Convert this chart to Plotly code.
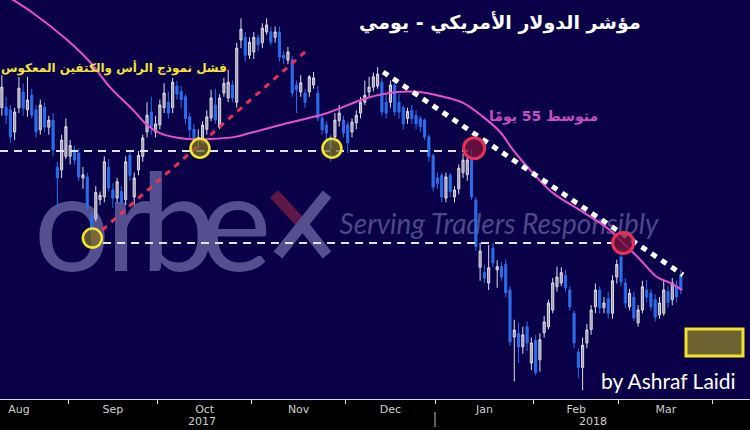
import plotly.graph_objects as go

# ---------------- data (US Dollar Index, daily, Aug 2017 - Mar 2018) ----------------
open_ = [93.50,93.51,93.46,93.05,93.50,93.79,93.46,93.73,93.46,93.09,93.51,93.14,93.27,92.40,92.35,92.60,
         92.60,92.72,92.66,92.20,92.22,91.50,91.45,91.80,91.85,92.40,91.98,91.83,91.95,91.80,92.62,91.85,92.35,92.60,93.05,93.42,93.05,
         93.18,93.50,93.60,93.50,93.90,93.80,93.70,93.33,93.10,92.90,92.94,93.10,93.31,93.55,93.14,93.77,93.68,93.92,93.60,94.75,94.80,94.47,
         94.53,94.79,94.70,94.90,94.90,94.80,94.90,94.47,94.38,94.38,93.92,93.79,93.77,93.79,93.92,93.77,93.31,93.18,92.95,92.96,93.26,93.27,
         93.18,93.05,93.22,93.40,93.60,93.79,93.88,93.90,93.97,93.60,93.60,93.92,93.60,93.50,93.30,93.45,93.36,93.30,93.27,92.96,92.62,
         92.20,92.25,91.83,92.25,91.85,92.00,92.30,92.26,92.53,91.79,90.55,90.45,90.26,90.90,90.50,90.56,90.60,90.13,89.26,89.33,89.08,89.45,88.78,
         89.20,88.84,89.34,89.45,89.76,90.19,90.26,90.40,90.13,89.70,88.98,88.70,89.15,89.40,89.82,90.13,89.80,89.97,89.70,90.37,
         90.74,90.26,89.82,90.00,89.52,89.76,90.13,90.07,89.95,89.67,89.70,90.10,89.95,90.20,90.41]
high_ = [94.10,93.70,93.55,93.50,94.07,93.95,94.07,93.85,93.55,93.65,93.60,93.35,93.40,92.50,93.00,93.30,
         92.90,92.80,92.75,92.40,92.30,91.55,92.05,91.95,92.60,92.55,92.10,92.20,92.05,92.60,92.70,92.30,92.70,93.00,93.60,93.70,93.35,
         93.65,93.95,93.80,94.05,94.00,93.90,93.75,93.40,93.20,93.10,93.25,93.45,93.83,93.85,93.75,94.05,94.20,94.00,94.70,95.15,94.90,94.80,
         94.90,94.85,95.06,95.15,95.00,95.00,95.00,94.55,94.62,94.45,94.00,94.10,93.85,94.10,94.16,93.90,93.35,93.25,93.00,93.40,93.55,93.35,
         93.25,93.30,93.45,93.70,94.00,94.07,94.15,94.25,94.05,93.75,94.00,94.00,93.75,93.55,93.50,93.55,93.45,93.35,93.30,93.00,92.65,
         92.30,92.30,92.30,92.30,92.05,92.45,92.65,92.62,92.75,91.85,91.00,90.60,90.96,91.00,90.68,90.65,90.70,90.20,89.58,89.53,89.45,89.55,89.25,
         89.30,89.33,89.65,89.95,90.35,90.56,90.55,90.50,90.20,89.75,89.05,89.25,89.50,89.85,90.25,90.20,90.00,90.10,90.40,90.69,
         90.90,90.35,90.15,90.10,89.85,90.30,90.32,90.15,90.05,90.00,90.30,90.20,90.35,90.30,90.50]
low_ = [93.35,93.20,92.85,92.90,93.40,93.35,93.33,93.30,92.95,93.00,93.05,93.00,92.60,91.65,92.20,92.55,
        92.45,92.45,92.15,92.00,91.60,91.02,91.40,91.70,91.75,91.95,91.65,91.75,91.70,91.70,92.15,91.70,92.25,92.50,92.95,93.00,92.95,
        93.10,93.40,93.30,93.40,93.65,93.50,93.20,92.94,92.85,92.75,92.85,93.00,93.25,93.20,93.10,93.70,93.60,93.60,93.50,94.60,94.35,94.40,
        94.40,94.55,94.60,94.85,94.65,94.70,94.35,94.30,94.30,93.70,93.40,93.70,93.50,93.70,93.85,93.25,93.00,92.90,92.50,92.85,93.15,92.95,
        92.66,92.95,93.10,93.30,93.55,93.70,93.80,93.85,93.35,93.30,93.50,93.35,93.30,93.10,93.20,93.20,93.10,93.05,92.90,92.50,91.95,
        92.00,91.75,91.75,91.85,91.75,91.90,92.20,92.15,91.80,90.85,90.30,90.25,90.13,90.55,90.17,90.30,90.00,89.10,88.44,88.78,88.95,89.00,88.65,
        88.55,88.62,89.25,89.40,89.70,90.10,90.20,90.10,89.75,89.05,88.50,88.28,89.05,89.30,89.70,89.70,89.70,89.60,89.60,90.25,
        90.20,89.80,89.75,89.55,89.45,89.70,89.90,89.75,89.55,89.60,89.65,89.80,89.85,89.90,90.05]
close_ = [93.88,93.36,92.96,93.42,93.86,93.49,93.64,93.36,93.05,93.55,93.14,93.27,92.72,92.20,92.90,93.15,
          92.80,92.53,92.22,92.26,91.67,91.20,91.93,91.88,92.50,92.02,91.83,92.13,91.75,92.50,92.25,92.20,92.62,92.94,93.36,93.14,93.20,
          93.55,93.77,93.40,93.97,93.75,93.65,93.30,93.09,92.90,92.95,93.18,93.33,93.68,93.27,93.68,93.95,93.97,93.68,94.60,94.95,94.47,94.71,
          94.80,94.66,94.97,95.03,94.71,94.90,94.44,94.42,94.53,93.77,93.83,93.96,93.60,94.07,94.05,93.31,93.09,93.03,92.75,93.27,93.40,93.03,
          92.85,93.23,93.36,93.60,93.73,93.88,94.07,94.12,93.42,93.40,93.92,93.42,93.42,93.20,93.43,93.30,93.20,93.15,92.96,92.60,92.03,
          92.10,91.85,92.22,91.95,91.98,92.38,92.53,92.53,91.85,90.93,90.85,90.35,90.54,90.63,90.56,90.37,90.08,89.17,89.39,89.08,89.30,89.15,89.15,
          88.60,89.21,89.54,89.89,90.26,90.37,90.45,90.17,89.82,89.15,88.70,89.11,89.39,89.76,90.13,89.80,89.89,89.70,90.30,90.60,
          90.28,89.89,90.07,89.61,89.76,90.19,90.00,89.82,89.63,89.89,90.13,89.90,90.26,90.00,90.13]

# 55-day moving average at trading-day positions
ma_idx = [0, 7.3, 15.3, 20.7, 25.3, 30.7, 34, 37, 43.4, 48.8, 54.6, 58.1, 65.2, 76.2, 85.5, 92.5, 97.9,
          101.9, 108, 112.7, 116.7, 119.7, 124.4, 129.1, 136.1, 141.7, 145.5, 149.5, 153.4, 156.5, 159.3]
ma_val = [95.62, 95.25, 94.75, 94.34, 93.88, 93.46, 93.18, 93.03, 92.92, 92.92, 92.96, 93.03, 93.18, 93.40, 93.68, 93.79, 93.79,
          93.73, 93.59, 93.33, 93.05, 92.72, 92.29, 91.92, 91.57, 91.28, 91.00, 90.69, 90.37, 90.26, 90.13]

# annotated levels / trendlines
neck_level = 92.7
neck_span = [-0.43, 109.2]
low_level = 91.0
low_span = [23.7, 143.0]
red_trend_x = [21.4, 71.0]
red_trend_y = [91.09, 94.53]
white_trend_x = [89.3, 159.5]
white_trend_y = [94.16, 90.41]
yellow_idx = [21.2, 46.4, 77.3]
yellow_val = [91.09, 92.75, 92.75]
red_idx = [110.6, 145.5]
red_val = [92.75, 91.0]

# axis labelling (trading-day index of month boundaries)
month_bounds = [15.5, 36.5, 58.5, 80.5, 101.5, 124.5, 144.5, 166.5]
month_names = ["Aug", "Sep", "Oct", "Nov", "Dec", "Jan", "Feb", "Mar"]
month_label_pos = [4.0, 26.0, 47.5, 69.5, 91.0, 113.0, 134.5, 155.5]
years = ["2017", "2018"]

N = len(close_)
xi = list(range(N))
XR = [-0.43, 175.2]
YR = [88.115, 95.49]

BG = "#0a0048"
fig = go.Figure()

fig.add_trace(go.Candlestick(
    x=xi, open=open_, high=high_, low=low_, close=close_,
    increasing=dict(line=dict(color="#dcdce6", width=1), fillcolor="#9a9aa8"),
    decreasing=dict(line=dict(color="#2c6ee8", width=1), fillcolor="#2c6ee8"),
    whiskerwidth=0, showlegend=False, hoverinfo="skip"))

fig.add_trace(go.Scatter(x=ma_idx, y=ma_val, mode="lines", line=dict(color="#e650cf", width=2, shape="spline"),
                         showlegend=False, hoverinfo="skip"))

fig.add_trace(go.Scatter(x=neck_span, y=[neck_level, neck_level], mode="lines",
                         line=dict(color="#e2e2f6", width=2, dash="8px,6px"), showlegend=False, hoverinfo="skip"))
fig.add_trace(go.Scatter(x=low_span, y=[low_level, low_level], mode="lines",
                         line=dict(color="#e2e2f6", width=2, dash="8px,6px"), showlegend=False, hoverinfo="skip"))
fig.add_trace(go.Scatter(x=red_trend_x, y=red_trend_y, mode="lines",
                         line=dict(color="#e8305a", width=3, dash="6px,6px"), showlegend=False, hoverinfo="skip"))
fig.add_trace(go.Scatter(x=white_trend_x, y=white_trend_y, mode="lines",
                         line=dict(color="#ffffff", width=5, dash="6px,6px"), showlegend=False, hoverinfo="skip"))

fig.add_trace(go.Scatter(x=yellow_idx, y=yellow_val, mode="markers",
                         marker=dict(size=19, color="rgba(125,112,40,0.75)", line=dict(color="#f2e62a", width=2.5)),
                         showlegend=False, hoverinfo="skip"))
fig.add_trace(go.Scatter(x=red_idx, y=red_val, mode="markers",
                         marker=dict(size=21, color="rgba(120,20,60,0.8)", line=dict(color="#e8305a", width=3)),
                         showlegend=False, hoverinfo="skip"))

W, H = 750, 399
def px(x):
    return x / W
def py(y):
    return 1 - y / H

shapes = []
# watermark logo (below traces), one letter per label
LOGO = "#54508f"
logo_letters = [("o", 72), ("r", 130), ("b", 178), ("e", 236)]
for ch, cx in logo_letters:
    shapes.append(dict(type="rect", xref="paper", yref="paper", x0=px(cx - 30), x1=px(cx + 30),
                       y0=py(247), y1=py(187), line=dict(width=0), fillcolor="rgba(0,0,0,0)", layer="below",
                       label=dict(text=ch, font=dict(family="Lato", size=135, color=LOGO),
                                  textposition="middle center")))
shapes.append(dict(type="line", xref="paper", yref="paper", x0=px(274), y0=py(194), x1=px(302), y1=py(224),
                   line=dict(color="#5e1848", width=11), layer="below"))
shapes.append(dict(type="line", xref="paper", yref="paper", x0=px(327), y0=py(194), x1=px(278), y1=py(255),
                   line=dict(color=LOGO, width=11), layer="below"))
shapes.append(dict(type="line", xref="paper", yref="paper", x0=px(304), y0=py(226), x1=px(327), y1=py(255),
                   line=dict(color=LOGO, width=11), layer="below"))
shapes.append(dict(type="rect", xref="paper", yref="paper", x0=px(338), x1=px(660), y0=py(238), y1=py(208),
                   line=dict(width=0), fillcolor="rgba(0,0,0,0)", layer="below",
                   label=dict(text="Serving Traders Responsibly",
                              font=dict(family="Lato", size=28, color="#4c4886", style="italic"),
                              textposition="middle center")))
# yellow box bottom right
shapes.append(dict(type="rect", xref="paper", yref="paper", x0=px(686), x1=px(743), y0=py(356), y1=py(329),
                   fillcolor="#6e6232", line=dict(color="#ece32a", width=3)))
# year divider in axis band
shapes.append(dict(type="line", xref="paper", yref="paper", x0=px(435), x1=px(435), y0=py(412), y1=py(427),
                   line=dict(color="#bdbdbd", width=1)))

annotations = [
    dict(text="مؤشر الدولار الأمريكي - يومي", x=px(643), y=py(22), xref="paper", yref="paper",
         xanchor="right", yanchor="middle", showarrow=False,
         font=dict(family="DejaVu Sans", size=19, color="#ffffff", weight="bold")),
    dict(text="فشل نموذج الرأس والكتفين المعكوس", x=px(229), y=py(68), xref="paper", yref="paper",
         xanchor="right", yanchor="middle", showarrow=False,
         font=dict(family="DejaVu Sans", size=12, color="#f2e43a", weight="bold")),
    dict(text="متوسط 55 يومًا", x=px(600), y=py(117), xref="paper", yref="paper",
         xanchor="right", yanchor="middle", showarrow=False,
         font=dict(family="DejaVu Sans", size=14, color="#c44fc0", weight="bold")),
    dict(text="by Ashraf Laidi", x=px(738), y=py(380), xref="paper", yref="paper",
         xanchor="right", yanchor="middle", showarrow=False,
         font=dict(family="Lato", size=21, color="#ffffff")),
    dict(text=years[0], x=px(202), y=py(421), xref="paper", yref="paper", xanchor="center", yanchor="middle",
         showarrow=False, font=dict(family="DejaVu Sans", size=11, color="#cfcfcf")),
    dict(text=years[1], x=px(593), y=py(421), xref="paper", yref="paper", xanchor="center", yanchor="middle",
         showarrow=False, font=dict(family="DejaVu Sans", size=11, color="#cfcfcf")),
]

fig.update_layout(
    width=750, height=430, margin=dict(l=0, r=0, t=0, b=31, pad=0),
    paper_bgcolor="#000000", plot_bgcolor=BG,
    shapes=shapes, annotations=annotations, showlegend=False,
    xaxis=dict(range=XR, rangeslider=dict(visible=False), showgrid=False, zeroline=False,
               tickmode="array", tickvals=month_label_pos, ticktext=month_names, ticks="",
               tickfont=dict(family="DejaVu Sans", size=11, color="#cfcfcf"),
               showline=True, linecolor="#d8d8d8", linewidth=1,
               minor=dict(tickmode="array", tickvals=month_bounds, ticks="outside", ticklen=4,
                          tickcolor="#d8d8d8", tickwidth=1, showgrid=False)),
    yaxis=dict(range=YR, showgrid=False, zeroline=False, showticklabels=False, ticks=""),
)

fig.write_html("out.html", config={"displayModeBar": False, "staticPlot": True},
               post_script="document.body.style.margin='0';document.body.style.padding='0';"
                           "document.documentElement.style.overflow='hidden';")
